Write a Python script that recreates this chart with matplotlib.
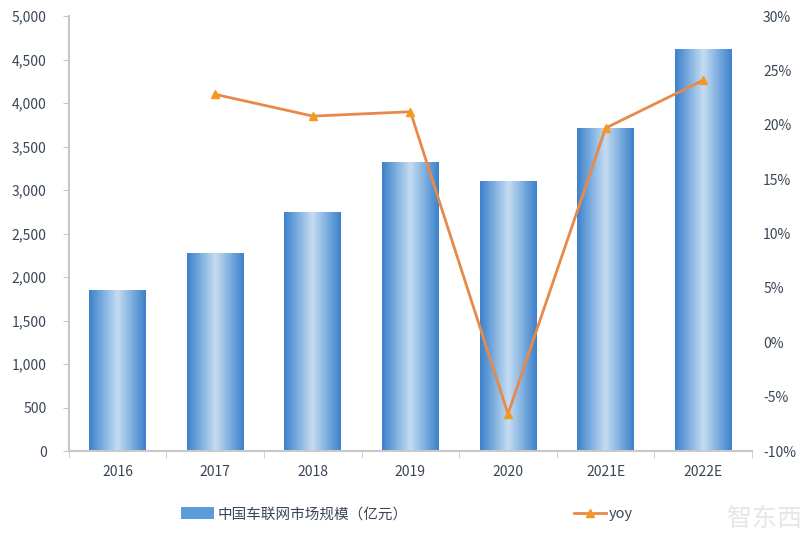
import numpy as np
import matplotlib.pyplot as plt
from matplotlib.colors import LinearSegmentedColormap
from matplotlib.lines import Line2D
from matplotlib.patches import Rectangle

plt.rcParams['font.family'] = ['Noto Sans CJK SC', 'DejaVu Sans']

# data #

years = ['2016', '2017', '2018', '2019', '2020', '2021E', '2022E']
market = [1840, 2265, 2745, 3320, 3100, 3710, 4610]
yoy = [None, 0.228, 0.208, 0.212, -0.066, 0.197, 0.241]
left_ticks = [0, 500, 1000, 1500, 2000, 2500, 3000, 3500, 4000, 4500, 5000]
right_ticks = [-0.10, -0.05, 0, 0.05, 0.10, 0.15, 0.20, 0.25, 0.30]

txt = '#3a4658'
grey = '#c8c8c8'
grad = LinearSegmentedColormap.from_list(
    'bar', ['#3d82cb', '#7fb0e0', '#c6ddf1', '#7fb0e0', '#3d82cb'])

fig = plt.figure(figsize=(8, 5.35), dpi=100)
ax = fig.add_axes([0.086, 0.157, 0.854, 0.813])

x = np.arange(len(years))
bars = ax.bar(x, market, width=0.58, color='none', edgecolor='none')
g = np.linspace(0, 1, 64).reshape(1, -1)
for b in bars:
    x0, w, h = b.get_x(), b.get_width(), b.get_height()
    ax.imshow(g, cmap=grad, extent=(x0, x0 + w, 0, h), aspect='auto', zorder=2)
ax.set_xlim(-0.5, len(years) - 0.5)
ax.set_ylim(0, 5000)
ax.set_yticks(left_ticks)
ax.set_yticklabels(['{:,}'.format(v) for v in left_ticks])
ax.set_xticks(x)
ax.set_xticklabels(years)
ax.set_xticks(np.arange(len(years) + 1) - 0.5, minor=True)
ax.tick_params(axis='x', which='major', length=0, pad=10, labelsize=10, labelcolor=txt)
ax.tick_params(axis='x', which='minor', length=5, color=grey)
ax.tick_params(axis='y', length=4, color=grey, pad=12, labelsize=10, labelcolor=txt)
for s in ['top', 'right']:
    ax.spines[s].set_visible(False)
ax.spines['left'].set_color(grey)
ax.spines['bottom'].set_color(grey)
ax.spines['left'].set_linewidth(1.5)
ax.spines['bottom'].set_linewidth(1.5)

ax2 = ax.twinx()
yx = [i for i, v in enumerate(yoy) if v is not None]
yv = [v for v in yoy if v is not None]
ax2.plot(yx, yv, color='#e8894a', lw=2, marker='^', ms=6,
         markerfacecolor='#f39a1e', markeredgecolor='#f39a1e', zorder=3)
ax2.set_ylim(-0.10, 0.30)
ax2.set_yticks(right_ticks)
ax2.set_yticklabels(['{:.0f}%'.format(v * 100) for v in right_ticks])
ax2.tick_params(axis='y', length=0, pad=8, labelsize=10, labelcolor=txt)
for s in ax2.spines.values():
    s.set_visible(False)

# legend #

bar_handle = Rectangle((0, 0), 1, 1, facecolor='#5b9bd8', edgecolor='none')
line_handle = Line2D([], [], color='#e8894a', lw=2, marker='^', ms=6,
                     markerfacecolor='#f39a1e', markeredgecolor='#f39a1e')
leg1 = fig.legend([bar_handle], ['中国车联网市场规模（亿元）'], loc='center left',
                  bbox_to_anchor=(0.226, 0.039), frameon=False, borderpad=0,
                  borderaxespad=0, handlelength=2.3, handleheight=0.8,
                  handletextpad=0.25, prop={'size': 10.5}, labelcolor=txt)
fig.legend([line_handle], ['yoy'], loc='center left',
           bbox_to_anchor=(0.718, 0.039), frameon=False, borderpad=0,
           borderaxespad=0, handlelength=2.2, handletextpad=0.15,
           prop={'size': 10.5}, labelcolor=txt)

fig.text(0.955, 0.03, '智东西', color='#e6e6e6', fontsize=18, ha='center', va='center')

fig.savefig('out.png', dpi=100)
